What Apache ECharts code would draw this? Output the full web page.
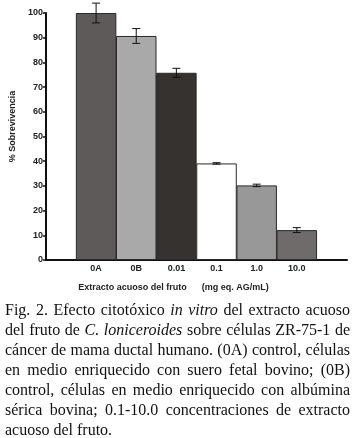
<!DOCTYPE html>
<html>
<head>
<meta charset="utf-8">
<script src="https://cdn.jsdelivr.net/npm/echarts@6/dist/echarts.min.js"></script>
<style>
  html, body { margin: 0; padding: 0; background: #fff; }
  #wrap { position: relative; width: 354px; height: 438px; }
  #chart { position: absolute; left: 0; top: 0; width: 354px; height: 438px; }
  #caption {
    position: absolute; left: 5px; top: 300px; width: 345px;
    font-family: "Liberation Serif", "DejaVu Serif", serif;
    font-size: 16px; line-height: 20px; color: #111;
  }
  #caption div { text-align: justify; text-align-last: justify; white-space: nowrap; }
  #caption div.last { text-align-last: left; }
</style>
</head>
<body>
<div id="wrap">
  <div id="chart"></div>
  <div id="caption">
    <div>Fig. 2. Efecto citotóxico <i>in vitro</i> del extracto acuoso</div>
    <div>del fruto de <i>C. loniceroides</i> sobre células ZR-75-1 de</div>
    <div>cáncer de mama ductal humano. (0A) control, células</div>
    <div>en medio enriquecido con suero fetal bovino; (0B)</div>
    <div>control, células en medio enriquecido con albúmina</div>
    <div>sérica bovina; 0.1-10.0 concentraciones de extracto</div>
    <div class="last">acuoso del fruto.</div>
  </div>
</div>
<script>
  const categories = ['0A', '0B', '0.01', '0.1', '1.0', '10.0'];
  const values = [100, 90.7, 75.8, 39.1, 30.2, 12.1];
  const errors = [4, 3, 1.8, 0.3, 0.5, 1];
  const colors = ['#5f5a5a', '#a9a9a9', '#363230', '#ffffff', '#989898', '#6e6b6a'];
  const yTicks = [0, 10, 20, 30, 40, 50, 60, 70, 80, 90, 100];

  const chart = echarts.init(document.getElementById('chart'));

  const font = '"Liberation Sans", Arial, sans-serif';

  chart.setOption({
    animation: false,
    grid: { left: 43, right: 7, top: 13, bottom: 178 },
    xAxis: {
      type: 'value',
      min: -1.25,
      max: 6.25,
      name: 'Extracto acuoso del fruto      (mg eq. AG/mL)',
      nameLocation: 'middle',
      nameGap: 23,
      nameTextStyle: {
        fontFamily: font, fontWeight: 'bold', fontSize: 9, color: '#222',
        padding: [0, 46, 0, 0]
      },
      axisLine: { onZero: false, lineStyle: { color: '#111', width: 2 } },
      axisTick: { show: false },
      axisLabel: { show: false },
      splitLine: { show: false }
    },
    yAxis: {
      type: 'value',
      min: yTicks[0],
      max: yTicks[yTicks.length - 1],
      interval: 10,
      name: '% Sobrevivencia',
      nameLocation: 'middle',
      nameGap: 25,
      nameTextStyle: {
        fontFamily: font, fontWeight: 'bold', fontSize: 9, color: '#222',
        padding: [0, 0, 0, 20]
      },
      axisLine: { show: true, onZero: false, lineStyle: { color: '#111', width: 2 } },
      axisTick: { show: true, length: 3, lineStyle: { color: '#111', width: 1.5 } },
      axisLabel: {
        fontFamily: font, fontWeight: 'bold', fontSize: 9, color: '#222', margin: 3
      },
      splitLine: { show: false }
    },
    series: [
      {
        type: 'bar',
        barWidth: 40.5,
        data: values.map((v, i) => ({
          value: [i, v],
          itemStyle: { color: colors[i] }
        })),
        itemStyle: { borderColor: '#2a2a2a', borderWidth: 1 },
        label: {
          show: true,
          position: 'bottom',
          distance: 4,
          formatter: p => categories[p.dataIndex],
          fontFamily: font, fontWeight: 'bold', fontSize: 9, color: '#222'
        }
      },
      {
        type: 'custom',
        data: values.map((v, i) => [i, v, errors[i]]),
        z: 5,
        renderItem: function (params, api) {
          const x = api.value(0), v = api.value(1), e = api.value(2);
          const top = api.coord([x, v + e]);
          const bot = api.coord([x, v - e]);
          const hw = 4;
          const style = { stroke: '#111', lineWidth: 1 };
          return {
            type: 'group',
            children: [
              { type: 'line', shape: { x1: top[0], y1: top[1], x2: bot[0], y2: bot[1] }, style },
              { type: 'line', shape: { x1: top[0] - hw, y1: top[1], x2: top[0] + hw, y2: top[1] }, style },
              { type: 'line', shape: { x1: bot[0] - hw, y1: bot[1], x2: bot[0] + hw, y2: bot[1] }, style }
            ]
          };
        }
      }
    ]
  });
</script>
</body>
</html>
